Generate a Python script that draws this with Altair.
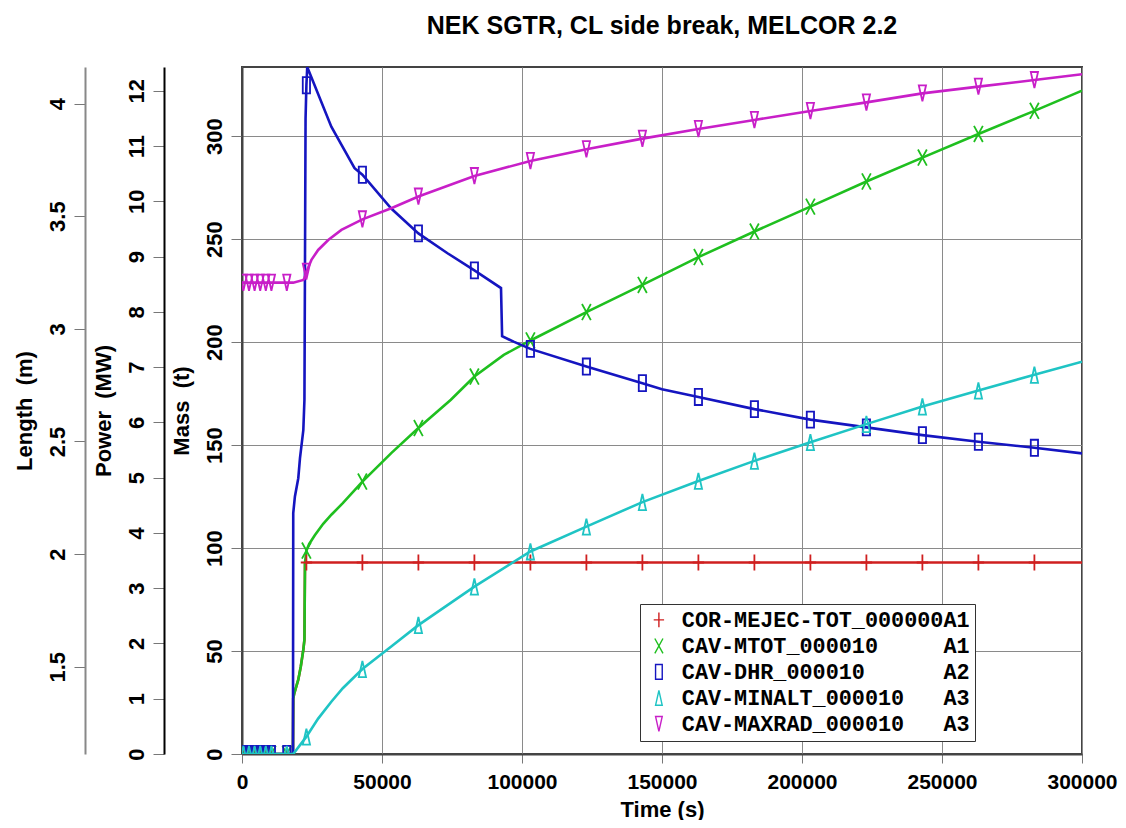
import altair as alt
import pandas as pd

NB = "\u00a0"

# ---------------- data ----------------
S_RED = "COR-MEJEC-TOT_000000A1"
S_GREEN = "CAV-MTOT_000010" + NB * 5 + "A1"
S_BLUE = "CAV-DHR_000010" + NB * 6 + "A2"
S_CYAN = "CAV-MINALT_000010" + NB * 3 + "A3"
S_MAG = "CAV-MAXRAD_000010" + NB * 3 + "A3"
SERIES = [S_RED, S_GREEN, S_BLUE, S_CYAN, S_MAG]
COLORS = ["#cf1f1f", "#1fbf1f", "#1515c0", "#1fc4c4", "#c81fc8"]

# marker times
MARK_T = [500, 2500, 4500, 6500, 8500, 10500, 16000,
          23000, 43000, 63000, 83000, 103000, 123000, 143000, 163000,
          183000, 203000, 223000, 243000, 263000, 283000]

EARLY_T = [0, 500, 2500, 4500, 6500, 8500, 10500, 16000]
LATE_T = [103000, 123000, 143000, 163000, 183000, 203000, 223000,
          243000, 263000, 283000, 300000]

# COR-MEJEC-TOT (t) - Mass axis
RED_T = EARLY_T + [18200, 18300, 18700, 20100, 21000, 21900, 22300, 22500,
                   23000, 43000, 63000, 83000] + LATE_T
RED_V = [0, 0, 0, 0, 0, 0, 0, 0, 0, 27.0, 29.6, 36.1, 42.5, 50.6, 55.5, 92.7,
         93.0, 93.0, 93.0, 93.0, 93.0, 93.0, 93.0, 93.0, 93.0, 93.0, 93.0,
         93.0, 93.0, 93.0, 93.0]

# CAV-MTOT (t) - Mass axis
GREEN_T = EARLY_T + [18200, 18300, 18700, 20100, 21000, 21900, 22300, 22500,
                     23000, 24000, 26000, 29000, 32000, 36000, 43000, 53300,
                     63000, 74600, 83000, 93500] + LATE_T
GREEN_V = [0, 0, 0, 0, 0, 0, 0, 0, 0, 27.0, 29.6, 36.1, 42.5, 50.6, 55.5, 93.0,
           98.8, 102.0, 106.2, 111.8, 116.3, 121.8, 132.3, 146.1, 158.3, 172.0,
           183.3, 193.8, 200.8, 214.6, 227.8, 241.3, 253.7, 265.8, 278.0,
           289.6, 301.1, 312.3, 322.1]

# CAV-DHR (MW) - Power axis
BLUE_T = EARLY_T + [18200, 18300, 18900, 20100, 20700, 21900, 22300, 22700,
                    23000, 23300, 31900, 40200, 43000, 53300, 63000, 73400,
                    83000, 92500, 92900, 97000, 103000, 123000, 143000, 150000,
                    163000, 183000, 203000, 223000, 243000, 263000, 283000,
                    300000]
BLUE_V = [0, 0, 0, 0, 0, 0, 0, 0, 0, 4.36, 4.66, 4.99, 5.35, 5.86, 6.41, 11.5,
          12.1, 12.43, 11.35, 10.60, 10.48, 9.87, 9.42, 9.06, 8.75, 8.43, 7.56,
          7.46, 7.33, 7.01, 6.71, 6.60, 6.46, 6.24, 6.05, 5.91, 5.77, 5.65,
          5.54, 5.44]

# CAV-MINALT (m) - Length axis
CYAN_T = EARLY_T + [18300, 23000, 27200, 31900, 36000, 43000, 53300, 63000,
                    83000] + LATE_T
CYAN_V = [1.113, 1.113, 1.113, 1.113, 1.113, 1.113, 1.113, 1.113, 1.113,
          1.19, 1.27, 1.345, 1.405, 1.49, 1.59, 1.685, 1.856, 2.012, 2.122,
          2.231, 2.325, 2.414, 2.497, 2.577, 2.655, 2.726, 2.796, 2.854]

# CAV-MAXRAD (m) - Length axis
MAG_T = EARLY_T + [18300, 21900, 22300, 23000, 24800, 27200, 30800, 35500,
                   43000, 53300, 63000, 83000] + LATE_T
MAG_V = [3.205, 3.205, 3.205, 3.205, 3.205, 3.205, 3.205, 3.205, 3.205,
         3.217, 3.225, 3.254, 3.306, 3.350, 3.394, 3.439, 3.486, 3.535, 3.587,
         3.678, 3.745, 3.797, 3.844, 3.887, 3.927, 3.967, 4.005, 4.045, 4.075,
         4.104, 4.130]

MASS_DOMAIN = [0, 333.6]
POWER_DOMAIN = [0, 12.43]
LEN_DOMAIN = [1.113, 4.162]

X_TICKS = [0, 50000, 100000, 150000, 200000, 250000, 300000]
MASS_TICKS = [0, 50, 100, 150, 200, 250, 300]
POWER_TICKS = list(range(0, 13))
LEN_TICKS = [1.5, 2, 2.5, 3, 3.5, 4]

SHAPES = [
    "M-0.7,0L0.7,0M0,-1L0,1",
    "M-0.55,-1L0.55,1M-0.55,1L0.55,-1",
    "M-0.45,-1L0.45,-1L0.45,1L-0.45,1Z",
    "M0,-1L0.45,1L-0.45,1Z",
    "M-0.45,-1L0.45,-1L0,1Z",
]


def frame(name, ts, vs):
    return pd.DataFrame({"t": ts, "v": vs, "series": name,
                         "i": list(range(len(ts)))})


FONT = "Liberation Sans"
LFONT = 22

x_enc = alt.X("t:Q", scale=alt.Scale(domain=[0, 300000], nice=False),
              axis=alt.Axis(title="Time (s)", values=X_TICKS, format="d",
                            grid=True, gridColor="#8a8a8a", gridWidth=1,
                            domainColor="#444", domainWidth=2,
                            tickColor="#777", tickSize=9, labelFontSize=21,
                            labelFlush=False, labelOverlap=False,
                            labelPadding=8, titlePadding=7))

color_scale = alt.Scale(domain=SERIES, range=COLORS)
shape_scale = alt.Scale(domain=SERIES, range=SHAPES)

legend = alt.Legend(title=None, orient="none", legendX=398, legendY=537,
                    strokeColor="#333", fillColor="white", padding=5,
                    labelFont="Liberation Mono", labelFontWeight="bold",
                    labelFontSize=21.8, labelColor="black", labelOffset=12,
                    rowPadding=3, symbolSize=220, symbolStrokeWidth=1.4,
                    symbolOffset=3, labelLimit=600)


def y_axis(title, values, offset, grid, domain_color, fmt):
    return alt.Axis(title=title, orient="left", offset=offset, values=values,
                    format=fmt,
                    grid=grid, gridColor="#8a8a8a", gridWidth=1,
                    domainColor=domain_color, domainWidth=2,
                    tickColor="#777", tickSize=11,
                    labelAngle=-90, labelAlign="center", labelBaseline="bottom",
                    labelFlush=False, labelOverlap=False, labelPadding=5,
                    titlePadding=10)


y_mass = alt.Y("v:Q", scale=alt.Scale(domain=MASS_DOMAIN, nice=False, zero=False),
               axis=y_axis("Mass" + NB + NB + "(t)", MASS_TICKS, 0, True, "#444", "d"))
y_power = alt.Y("v:Q", scale=alt.Scale(domain=POWER_DOMAIN, nice=False, zero=False),
                axis=y_axis("Power" + NB + NB + "(MW)", POWER_TICKS, 78, False, "black", "d"))
y_len = alt.Y("v:Q", scale=alt.Scale(domain=LEN_DOMAIN, nice=False, zero=False),
              axis=y_axis("Length" + NB + NB + "(m)", LEN_TICKS, 157, False, "#888", "~g"))


def group(series_list, y_enc):
    layers = []
    frames = []
    for name, ts, vs in series_list:
        df = frame(name, ts, vs)
        frames.append(df)
        col = COLORS[SERIES.index(name)]
        layers.append(
            alt.Chart(df).mark_line(strokeWidth=2.6, clip=True, color=col).encode(
                x=x_enc, y=y_enc, order=alt.Order("i:Q"))
        )
    pts = alt.Chart(pd.concat(frames)).transform_filter(
        alt.FieldOneOfPredicate(field="t", oneOf=MARK_T)
    ).mark_point(filled=False, size=260, strokeWidth=1.8, opacity=1, clip=True).encode(
        x=x_enc, y=y_enc,
        color=alt.Color("series:N", scale=color_scale, legend=legend),
        shape=alt.Shape("series:N", scale=shape_scale, legend=legend),
    )
    return alt.layer(*layers, pts)


chart = alt.layer(
    group([(S_RED, RED_T, RED_V), (S_GREEN, GREEN_T, GREEN_V)], y_mass),
    group([(S_BLUE, BLUE_T, BLUE_V)], y_power),
    group([(S_CYAN, CYAN_T, CYAN_V), (S_MAG, MAG_T, MAG_V)], y_len),
).resolve_scale(y="independent").properties(
    width=1110, height=812,
    autosize=alt.AutoSizeParams(type="fit", contains="padding"),
    padding={"left": 5, "top": 6, "right": 0, "bottom": 0},
    title=alt.TitleParams("NEK SGTR, CL side break, MELCOR 2.2", font=FONT,
                          fontSize=25, fontWeight="bold", color="black",
                          anchor="middle", frame="group", offset=28),
    background="white",
).configure_axis(
    labelFont=FONT, labelFontSize=LFONT, labelFontWeight="bold", labelColor="black",
    titleFont=FONT, titleFontSize=LFONT, titleFontWeight="bold", titleColor="black",
).configure_view(stroke="#444", strokeWidth=2)

chart.save("out.html", embed_options={"renderer": "svg", "actions": False})
